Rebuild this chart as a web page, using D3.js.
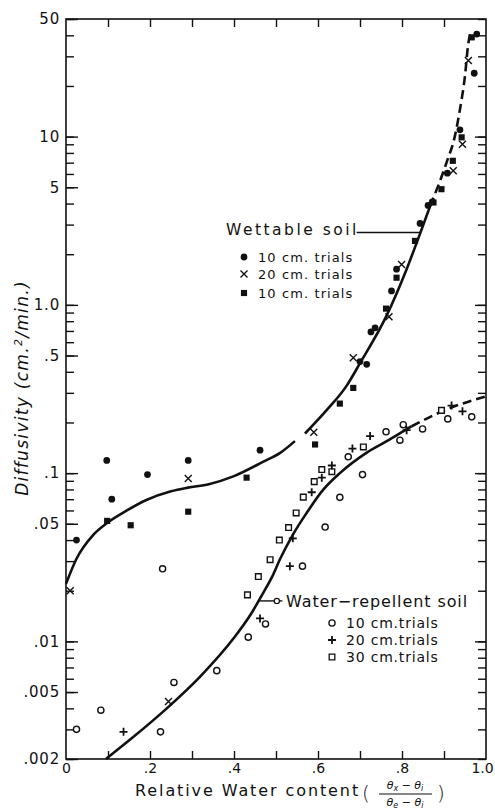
<!DOCTYPE html>
<html>
<head>
<meta charset="utf-8">
<script src="https://cdn.jsdelivr.net/npm/d3@7"></script>
<style>
  body { margin: 0; background: #fff; }
  text { font-family: "DejaVu Sans", sans-serif; fill: #111; }
</style>
</head>
<body>
<script>
// values: [relative water content, diffusivity cm2/min]
// wettable soil
const wet10 = [[0.025,0.040],[0.097,0.119],[0.109,0.070],[0.194,0.098],[0.291,0.119],[0.462,0.137],
  [0.70,0.46],[0.716,0.443],[0.726,0.69],[0.736,0.73],[0.775,1.21],[0.787,1.63],[0.843,3.05],
  [0.862,3.9],[0.872,4.1],[0.908,6.06],[0.938,10.97],[0.972,23.8],[0.978,40.7]];
const wet20 = [[0.01,0.020],[0.244,0.0044],[0.291,0.093],[0.590,0.175],[0.684,0.485],[0.769,0.85],
  [0.799,1.74],[0.922,6.26],[0.944,9.0],[0.958,28.3]];
const wet10sq = [[0.098,0.052],[0.154,0.049],[0.291,0.059],[0.430,0.094],[0.593,0.148],[0.652,0.259],
  [0.684,0.321],[0.762,0.95],[0.787,1.45],[0.831,2.40],[0.875,4.06],[0.894,4.87],[0.921,7.18],
  [0.942,9.9],[0.966,38.9]];
// water-repellent soil
const rep10 = [[0.025,0.0030],[0.083,0.0039],[0.225,0.0029],[0.23,0.027],[0.257,0.0057],[0.359,0.0067],
  [0.434,0.0106],[0.475,0.0127],[0.563,0.028],[0.617,0.0478],[0.652,0.0718],[0.672,0.125],
  [0.706,0.098],[0.762,0.176],[0.795,0.157],[0.803,0.194],[0.849,0.183],[0.909,0.21],[0.966,0.216]];
const rep20 = [[0.137,0.0029],[0.462,0.0137],[0.533,0.028],[0.540,0.041],[0.585,0.077],[0.609,0.094],
  [0.633,0.111],[0.682,0.14],[0.724,0.166],[0.811,0.18],[0.918,0.252],[0.944,0.233]];
const rep30 = [[0.432,0.0189],[0.458,0.0243],[0.486,0.0306],[0.508,0.040],[0.530,0.0475],[0.548,0.058],
  [0.565,0.072],[0.591,0.089],[0.609,0.105],[0.633,0.102],[0.708,0.143],[0.894,0.236]];

// fitted curves (solid pieces, then dashed extrapolation)
const wetCurve1 = [[0,0.022],[0.025,0.031],[0.065,0.043],[0.10,0.051],[0.145,0.060],[0.19,0.069],
  [0.25,0.078],[0.29,0.082],[0.34,0.086],[0.40,0.096],[0.47,0.117],[0.51,0.132],[0.545,0.155]];
const wetCurve2 = [[0.569,0.172],[0.62,0.236],[0.668,0.33],[0.70,0.45],[0.763,0.86],[0.811,1.63],
  [0.844,2.69],[0.867,3.87]];
const wetDash = [[0.867,3.87],[0.906,7.0],[0.926,10.1],[0.938,14.5],[0.95,23],[0.958,36],[0.963,41]];
const repCurve = [[0.095,0.0020],[0.16,0.0027],[0.24,0.0040],[0.32,0.0062],[0.40,0.0105],[0.44,0.0145],
  [0.47,0.0195],[0.49,0.0240],[0.51,0.031],[0.54,0.043],[0.573,0.058],[0.613,0.080],[0.652,0.100],
  [0.717,0.133],[0.77,0.158],[0.823,0.19]];
const repDash = [[0.823,0.19],[0.906,0.239],[1.0,0.286]];

// ticks
const yTicks = [50,10,5,1,0.5,0.1,0.05,0.01,0.005,0.002];
const yTickLabels = ["50","10","5","1.0",".5",".1",".05",".01",".005",".002"];
const xTicks = [0,0.2,0.4,0.6,0.8,1];
const xTickLabels = ["0",".2",".4",".6",".8","1.0"];

let margin = {top: 19, right: 9, bottom: 50, left: 66};
let width = 495 - margin.left - margin.right;
let height = 809 - margin.top - margin.bottom;

let x = d3.scaleLinear().domain([0,1]).range([0,width]);
let y = d3.scaleLog().domain([0.002,50]).range([height,0]);

let svg = d3.select("body").append("svg")
  .attr("width", 495).attr("height", 809);
let plot = svg.append("g")
  .attr("transform", "translate(" + margin.left + "," + margin.top + ")");

// minor log ticks 2..9 in every decade
let minorTicks = [];
d3.range(-3, 2).forEach(e => {
  d3.range(1, 10).forEach(m => {
    let v = m * Math.pow(10, e);
    if (v >= 0.002 && v <= 50) minorTicks.push(+v.toPrecision(3));
  });
});
let xMinor = d3.range(1, 10).map(i => i / 10);

function clean(g) {
  g.select(".domain").remove();
  g.selectAll("line").attr("stroke", "#111").attr("stroke-width", 1.4);
  g.selectAll("text").attr("font-size", 15).attr("fill", "#111");
}

// left
plot.append("g").call(d3.axisLeft(y).tickValues(minorTicks).tickSize(-8).tickFormat("")).call(clean);
plot.append("g").call(d3.axisLeft(y).tickValues(yTicks).tickSize(-12).tickPadding(6)
  .tickFormat((d, i) => yTickLabels[i])).call(clean)
  .selectAll("text").attr("letter-spacing", 0.8);
// right
plot.append("g").attr("transform", "translate(" + width + ",0)")
  .call(d3.axisRight(y).tickValues(minorTicks).tickSize(-8).tickFormat("")).call(clean);
plot.append("g").attr("transform", "translate(" + width + ",0)")
  .call(d3.axisRight(y).tickValues([10,1,0.1,0.01]).tickSize(-11).tickFormat("")).call(clean);
// top
plot.append("g").call(d3.axisTop(x).tickValues(xMinor).tickSize(-8).tickFormat("")).call(clean);
// bottom
plot.append("g").attr("transform", "translate(0," + height + ")")
  .call(d3.axisBottom(x).tickValues(xMinor).tickSize(-8).tickFormat("")).call(clean);
plot.append("g").attr("transform", "translate(0," + height + ")")
  .call(d3.axisBottom(x).tickValues(xTicks).tickSize(0).tickPadding(4)
    .tickFormat((d, i) => xTickLabels[i])).call(clean)
  .selectAll("text").attr("font-size", 14).attr("dx", (d, i) => i == xTicks.length - 1 ? -4 : 0);

// frame
plot.append("rect").attr("width", width).attr("height", height)
  .attr("fill", "none").attr("stroke", "#111").attr("stroke-width", 1.6);

// curves
let line = d3.line().x(d => x(d[0])).y(d => y(d[1])).curve(d3.curveMonotoneX);
[wetCurve1, wetCurve2, repCurve].forEach(c => {
  plot.append("path").datum(c).attr("d", line)
    .attr("fill", "none").attr("stroke", "#111").attr("stroke-width", 2.6);
});
[wetDash, repDash].forEach(c => {
  plot.append("path").datum(c).attr("d", line)
    .attr("fill", "none").attr("stroke", "#111").attr("stroke-width", 2.6)
    .attr("stroke-dasharray", "9,5");
});

// markers
const shapes = {
  dot:   {d: d3.symbol(d3.symbolCircle, 36)(), fill: "#111", stroke: "none"},
  sq:    {d: d3.symbol(d3.symbolSquare, 38)(), fill: "#111", stroke: "none"},
  ring:  {d: d3.symbol(d3.symbolCircle, 30)(), fill: "#fff", stroke: "#111"},
  box:   {d: d3.symbol(d3.symbolSquare, 32)(), fill: "#fff", stroke: "#111"},
  cross: {d: "M-3.5,-3.5L3.5,3.5M-3.5,3.5L3.5,-3.5", fill: "none", stroke: "#111"},
  plus:  {d: "M-4,0H4M0,-4V4", fill: "none", stroke: "#111"}
};
function drawPts(data, kind) {
  let s = shapes[kind];
  plot.append("g").selectAll("path").data(data).join("path")
    .attr("transform", d => "translate(" + x(d[0]) + "," + y(d[1]) + ")")
    .attr("d", s.d).attr("fill", s.fill).attr("stroke", s.stroke)
    .attr("stroke-width", kind == "plus" ? 1.8 : 1.4);
}
drawPts(rep10, "ring");
drawPts(rep30, "box");
drawPts(rep20, "plus");
drawPts(wet10sq, "sq");
drawPts(wet10, "dot");
drawPts(wet20, "cross");

// wettable soil label + legend
plot.append("line")
  .attr("x1", x(0.692)).attr("x2", x(0.844)).attr("y1", y(2.69)).attr("y2", y(2.69))
  .attr("stroke", "#111").attr("stroke-width", 1.4);
let wl = svg.append("g").attr("transform", "translate(226,0)");
wl.append("text").attr("x", 0).attr("y", 235).attr("font-size", 15.5).attr("letter-spacing", 2.5)
  .text("Wettable soil");
[["dot","10 cm. trials",257],["cross","20 cm. trials",274],["sq","10 cm. trials",293]].forEach(r => {
  let s = shapes[r[0]];
  wl.append("path").attr("transform", "translate(18," + r[2] + ")").attr("d", s.d)
    .attr("fill", s.fill).attr("stroke", s.stroke).attr("stroke-width", 1.4);
  wl.append("text").attr("x", 32).attr("y", r[2] + 5).attr("font-size", 13).attr("letter-spacing", 1.1)
    .text(r[1]);
});

// water-repellent label + legend
plot.append("line")
  .attr("x1", x(0.457)).attr("x2", x(0.515)).attr("y1", y(0.0174)).attr("y2", y(0.0174))
  .attr("stroke", "#111").attr("stroke-width", 1.4);
plot.append("circle").attr("cx", x(0.502)).attr("cy", y(0.0174)).attr("r", 2.6)
  .attr("fill", "#fff").attr("stroke", "#111").attr("stroke-width", 1.2);
let rl = svg.append("g").attr("transform", "translate(286,0)");
rl.append("text").attr("x", 0).attr("y", 607).attr("font-size", 16).attr("letter-spacing", 0.9)
  .text("Water\u2212repellent soil");
[["ring","10 cm.trials",623],["plus","20 cm.trials",640],["box","30 cm.trials",657]].forEach(r => {
  let s = shapes[r[0]];
  rl.append("path").attr("transform", "translate(46," + r[2] + ")").attr("d", s.d)
    .attr("fill", s.fill).attr("stroke", s.stroke).attr("stroke-width", r[0] == "plus" ? 1.8 : 1.3);
  rl.append("text").attr("x", 60).attr("y", r[2] + 5).attr("font-size", 14).attr("letter-spacing", 0.8)
    .text(r[1]);
});

// y axis title
let yt = svg.append("text").attr("transform", "translate(28,388) rotate(-90)")
  .attr("text-anchor", "middle").attr("font-size", 17).attr("font-style", "italic")
  .attr("letter-spacing", 1.3);
yt.append("tspan").text("Diffusivity (cm.");
yt.append("tspan").attr("font-size", 11).attr("baseline-shift", "super").text("2");
yt.append("tspan").text("/min.)");

// x axis title with fraction
svg.append("text").attr("x", 135).attr("y", 796).attr("font-size", 16).attr("letter-spacing", 1.9)
  .text("Relative Water content");
svg.append("text").attr("x", 362).attr("y", 800).attr("font-size", 20).attr("font-weight", 200).text("(");
svg.append("text").attr("x", 437).attr("y", 800).attr("font-size", 20).attr("font-weight", 200).text(")");
let num = svg.append("text").attr("x", 405).attr("y", 789).attr("text-anchor", "middle")
  .attr("font-size", 11).attr("font-style", "italic");
num.append("tspan").text("\u03b8");
num.append("tspan").attr("font-size", 8).attr("dy", 2).text("x");
num.append("tspan").attr("dy", -2).text(" \u2212 \u03b8");
num.append("tspan").attr("font-size", 8).attr("dy", 2).text("i");
svg.append("line").attr("x1", 379).attr("x2", 432).attr("y1", 794).attr("y2", 794)
  .attr("stroke", "#111").attr("stroke-width", 1.2);
let den = svg.append("text").attr("x", 405).attr("y", 806).attr("text-anchor", "middle")
  .attr("font-size", 11).attr("font-style", "italic");
den.append("tspan").text("\u03b8");
den.append("tspan").attr("font-size", 8).attr("dy", 2).text("e");
den.append("tspan").attr("dy", -2).text(" \u2212 \u03b8");
den.append("tspan").attr("font-size", 8).attr("dy", 2).text("i");
</script>
</body>
</html>
